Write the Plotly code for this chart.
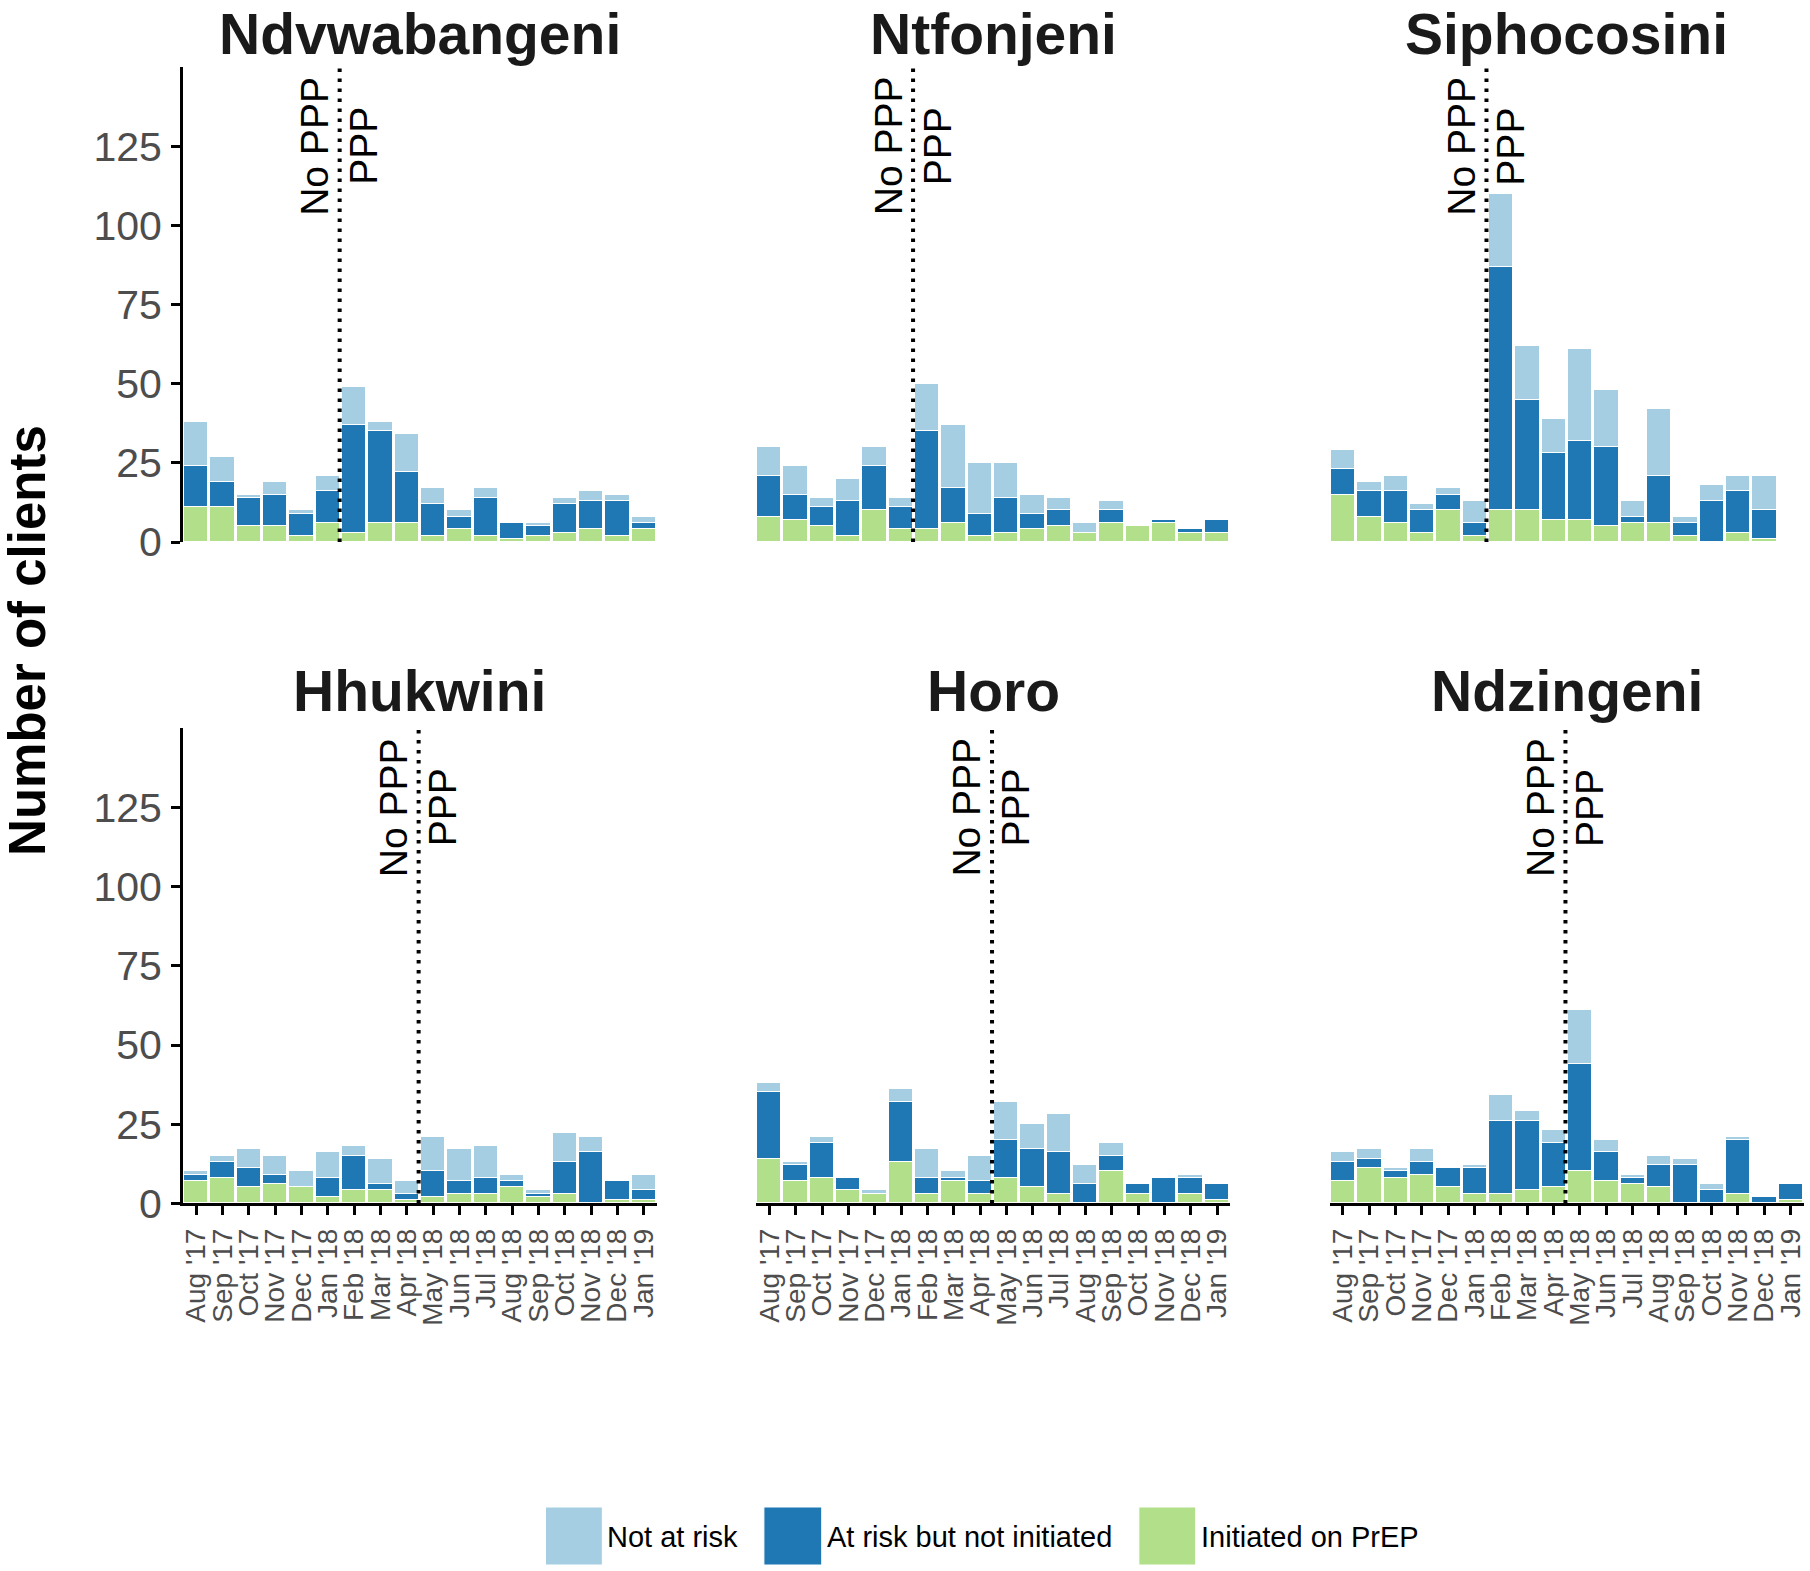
import plotly.graph_objects as go

# ---------------- data ----------------
months = ["Aug '17", "Sep '17", "Oct '17", "Nov '17", "Dec '17", "Jan '18",
          "Feb '18", "Mar '18", "Apr '18", "May '18", "Jun '18", "Jul '18",
          "Aug '18", "Sep '18", "Oct '18", "Nov '18", "Dec '18", "Jan '19"]

sites = ["Ndvwabangeni", "Ntfonjeni", "Siphocosini", "Hhukwini", "Horo", "Ndzingeni"]
series_names = ["Initiated on PrEP", "At risk but not initiated", "Not at risk"]
legend_order = ["Not at risk", "At risk but not initiated", "Initiated on PrEP"]

# position (between months) where PPP began, per site
ppp_cut = [5.45, 5.45, 5.45, 8.45, 8.45, 8.45]

ndvwabangeni_initiated = [11, 11, 5, 5, 2, 6, 3, 6, 6, 2, 4, 2, 1, 2, 3, 4, 2, 4]
ndvwabangeni_at_risk = [13, 8, 9, 10, 7, 10, 34, 29, 16, 10, 4, 12, 5, 3, 9, 9, 11, 2]
ndvwabangeni_not_at_risk = [14, 8, 1, 4, 1, 5, 12, 3, 12, 5, 2, 3, 0, 1, 2, 3, 2, 2]

ntfonjeni_initiated = [8, 7, 5, 2, 10, 4, 4, 6, 2, 3, 4, 5, 3, 6, 5, 6, 3, 3]
ntfonjeni_at_risk = [13, 8, 6, 11, 14, 7, 31, 11, 7, 11, 5, 5, 0, 4, 0, 1, 1, 4]
ntfonjeni_not_at_risk = [9, 9, 3, 7, 6, 3, 15, 20, 16, 11, 6, 4, 3, 3, 0, 0, 0, 0]

siphocosini_initiated = [15, 8, 6, 3, 10, 2, 10, 10, 7, 7, 5, 6, 6, 2, 0, 3, 1, 0]
siphocosini_at_risk = [8, 8, 10, 7, 5, 4, 77, 35, 21, 25, 25, 2, 15, 4, 13, 13, 9, 0]
siphocosini_not_at_risk = [6, 3, 5, 2, 2, 7, 23, 17, 11, 29, 18, 5, 21, 2, 5, 5, 11, 0]

hhukwini_initiated = [7, 8, 5, 6, 5, 2, 4, 4, 1, 2, 3, 3, 5, 2, 3, 0, 1, 1]
hhukwini_at_risk = [2, 5, 6, 3, 0, 6, 11, 2, 2, 8, 4, 5, 2, 1, 10, 16, 6, 3]
hhukwini_not_at_risk = [1, 2, 6, 6, 5, 8, 3, 8, 4, 11, 10, 10, 2, 1, 9, 5, 0, 5]

horo_initiated = [14, 7, 8, 4, 3, 13, 3, 7, 3, 8, 5, 3, 0, 10, 3, 0, 3, 1]
horo_at_risk = [21, 5, 11, 4, 0, 19, 5, 1, 4, 12, 12, 13, 6, 5, 3, 8, 5, 5]
horo_not_at_risk = [3, 1, 2, 0, 1, 4, 9, 2, 8, 12, 8, 12, 6, 4, 0, 0, 1, 0]

ndzingeni_initiated = [7, 11, 8, 9, 5, 3, 3, 4, 5, 10, 7, 6, 5, 0, 0, 3, 0, 1]
ndzingeni_at_risk = [6, 3, 2, 4, 6, 8, 23, 22, 14, 34, 9, 2, 7, 12, 4, 17, 2, 5]
ndzingeni_not_at_risk = [3, 3, 1, 4, 0, 1, 8, 3, 4, 17, 4, 1, 3, 2, 2, 1, 0, 0]

site_data = [
    [ndvwabangeni_initiated, ndvwabangeni_at_risk, ndvwabangeni_not_at_risk],
    [ntfonjeni_initiated, ntfonjeni_at_risk, ntfonjeni_not_at_risk],
    [siphocosini_initiated, siphocosini_at_risk, siphocosini_not_at_risk],
    [hhukwini_initiated, hhukwini_at_risk, hhukwini_not_at_risk],
    [horo_initiated, horo_at_risk, horo_not_at_risk],
    [ndzingeni_initiated, ndzingeni_at_risk, ndzingeni_not_at_risk],
]

y_ticks = [0, 25, 50, 75, 100, 125]

# ---------------- style / layout ----------------
colors = {"Initiated on PrEP": "#b2df8a",
          "At risk but not initiated": "#1f78b4",
          "Not at risk": "#a6cee3"}
FONT = "Liberation Sans, Arial, Helvetica, sans-serif"
REF_W, REF_H = 1810, 1571      # reference picture size (layout designed in these px)
W, H = 1810, 1594              # figure size


def fx(p):
    return p / REF_W


def fy(p):
    return 1 - p / REF_H


col_left = [180.5, 755.5, 1330.5]
panel_w = 475.2
row_top = [67.0, 728.4]
row_bot = [542.0, 1203.4]

fig = go.Figure()
layout = dict(
    width=W, height=H, autosize=False,
    margin=dict(l=0, r=0, t=0, b=0, pad=0),
    paper_bgcolor="white", plot_bgcolor="white",
    barmode="stack", bargap=0,
    font=dict(family=FONT, color="black"),
    showlegend=False,
)
annotations = []
shapes = []

for i, site in enumerate(sites):
    n = i + 1
    r, c = divmod(i, 3)
    xa = "x" if n == 1 else f"x{n}"
    ya = "y" if n == 1 else f"y{n}"
    for name, vals in zip(series_names, site_data[i]):
        fig.add_trace(go.Bar(
            x=months, y=vals, name=name, xaxis=xa, yaxis=ya,
            width=0.92,
            marker=dict(color=colors[name], line=dict(color="white", width=1)),
            showlegend=False,
        ))

    xdom = [fx(col_left[c]), fx(col_left[c] + panel_w)]
    ydom = [fy(row_bot[r]), fy(row_top[r])]
    xkey = "xaxis" if n == 1 else f"xaxis{n}"
    ykey = "yaxis" if n == 1 else f"yaxis{n}"

    xax = dict(domain=xdom, anchor=ya, type="category",
               categoryorder="array", categoryarray=months,
               range=[-0.5, len(months) - 0.5],
               showgrid=False, zeroline=False, fixedrange=True)
    if r == 1:
        xax.update(showline=True, linecolor="black", linewidth=3,
                   ticks="outside", ticklen=9, tickwidth=3, tickcolor="black",
                   tickmode="array", tickvals=months, ticktext=months,
                   tickangle=-90, showticklabels=True, ticklabelstandoff=2,
                   tickfont=dict(size=28, color="#4d4d4d", family=FONT))
    else:
        xax.update(showline=False, ticks="", showticklabels=False)
    layout[xkey] = xax

    yax = dict(domain=ydom, anchor=xa, range=[0, 150],
               showgrid=False, zeroline=False, fixedrange=True)
    if c == 0:
        yax.update(showline=True, linecolor="black", linewidth=3,
                   ticks="outside", ticklen=9, tickwidth=3, tickcolor="black",
                   tickmode="array", tickvals=y_ticks,
                   ticktext=[str(v) for v in y_ticks],
                   ticklabelstandoff=1,
                   tickfont=dict(size=41, color="#4d4d4d", family=FONT))
    else:
        yax.update(visible=False)
    layout[ykey] = yax

    # dotted PPP line
    shapes.append(dict(type="line", xref=xa, yref=f"{ya} domain",
                       x0=ppp_cut[i], x1=ppp_cut[i], y0=0, y1=1,
                       line=dict(color="black", width=4, dash="3.5px,6.5px")))
    annotations.append(dict(text="No PPP", x=ppp_cut[i], y=125, xref=xa, yref=ya,
                            textangle=-90, showarrow=False, xshift=-25,
                            font=dict(size=39, color="black", family=FONT)))
    annotations.append(dict(text="PPP", x=ppp_cut[i], y=125, xref=xa, yref=ya,
                            textangle=-90, showarrow=False, xshift=24,
                            font=dict(size=39, color="black", family=FONT)))
    # panel title
    if r == 0:
        annotations.append(dict(text=f"<b>{site}</b>", xref="paper", yref="paper",
                                x=fx(col_left[c] + panel_w / 2), y=1.0,
                                xanchor="center", yanchor="top", showarrow=False,
                                font=dict(size=57, color="#1a1a1a", family=FONT)))
    else:
        annotations.append(dict(text=f"<b>{site}</b>", xref="paper", yref="paper",
                                x=fx(col_left[c] + panel_w / 2), y=fy(691.0),
                                xanchor="center", yanchor="middle", showarrow=False,
                                font=dict(size=57, color="#1a1a1a", family=FONT)))

# y-axis title
annotations.append(dict(text="<b>Number of clients</b>", xref="paper", yref="paper",
                        x=fx(24), y=fy(640), xanchor="center", yanchor="middle",
                        textangle=-90, showarrow=False,
                        font=dict(size=51, color="black", family=FONT)))

# legend (drawn manually to get large key boxes)
legend_boxes = [(544, 601), (763, 821), (1139, 1196)]
for name, (x0, x1) in zip(legend_order, legend_boxes):
    shapes.append(dict(type="rect", xref="paper", yref="paper",
                       x0=fx(x0), x1=fx(x1), y0=fy(1565), y1=fy(1507),
                       fillcolor=colors[name], line=dict(color="white", width=1)))
    annotations.append(dict(text=name, xref="paper", yref="paper",
                            x=fx(x1 + 3), y=fy(1537), xanchor="left", yanchor="middle",
                            showarrow=False,
                            font=dict(size=29, color="black", family=FONT)))

layout["shapes"] = shapes
layout["annotations"] = annotations
fig.update_layout(**layout)
fig.write_html(
    "out.html",
    config={"responsive": False, "displayModeBar": False},
    post_script="document.body.style.margin='0';document.body.style.padding='0';",
)
